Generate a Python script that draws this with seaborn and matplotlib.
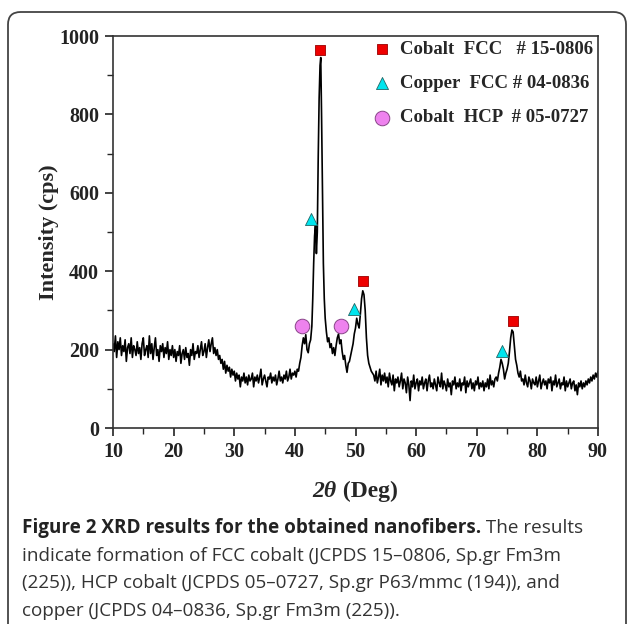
import numpy as np
import pandas as pd
import matplotlib
matplotlib.use("Agg")
import matplotlib.pyplot as plt
from matplotlib.patches import FancyBboxPatch
import seaborn as sns

# ---------------- data ----------------
# 10.0 .. 39.8 step 0.2
seg_a_start, seg_a_step = 10.0, 0.2
seg_a = [215, 195, 235, 180, 220, 200, 230, 185, 210, 195,
         225, 170, 205, 215, 190, 230, 180, 210, 200, 185,
         220, 190, 205, 175, 215, 230, 185, 200, 210, 180,
         235, 190, 215, 175, 205, 230, 185, 200, 170, 210,
         195, 215, 180, 205, 190, 220, 175, 200, 185, 210,
         180, 200, 170, 195, 185, 210, 165, 190, 200, 175,
         205, 180, 190, 160, 200, 185, 215, 175, 195, 190,
         210, 180, 200, 220, 185, 195, 215, 180, 205, 225,
         195, 215, 230, 190, 205, 185, 200, 175, 185, 165,
         175, 150, 170, 140, 160, 145, 155, 130, 150, 135,
         145, 120, 140, 125, 135, 105, 130, 120, 140, 115,
         130, 110, 135, 120, 125, 140, 105, 130, 120, 135,
         115, 130, 150, 110, 125, 135, 120, 105, 130, 125,
         140, 115, 130, 120, 135, 110, 125, 145, 120, 130,
         115, 135, 125, 145, 120, 130, 150, 125, 140, 135]
# peak region 40 .. 53
seg_b_x = [40.0, 40.2, 40.4, 40.6, 40.8, 41.0, 41.2, 41.4, 41.6, 41.8,
           42.0, 42.2, 42.4, 42.6, 42.8, 42.95, 43.1, 43.25, 43.4, 43.55,
           43.7, 43.85, 44.0, 44.15, 44.27, 44.4, 44.55, 44.7, 44.85, 45.0,
           45.2, 45.4, 45.6, 45.8, 46.0, 46.2, 46.4, 46.6, 46.8, 47.0,
           47.2, 47.4, 47.6, 47.8, 48.0, 48.2, 48.4, 48.6, 48.8, 49.0,
           49.2, 49.4, 49.6, 49.8, 50.0, 50.2, 50.4, 50.6, 50.8, 51.0,
           51.2, 51.4, 51.6, 51.8, 52.0, 52.2, 52.4, 52.6, 52.8]
seg_b_y = [145, 130, 150, 145, 165, 180, 210, 230, 215, 238,
           200, 192, 215, 225, 260, 330, 420, 490, 520, 445,
           500, 690, 840, 925, 945, 800, 600, 420, 330, 280,
           245, 220, 230, 205, 215, 190, 205, 185, 210, 230,
           240, 215, 225, 195, 175, 185, 160, 142, 165, 170,
           185, 200, 215, 240, 255, 280, 265, 255, 290, 330,
           350, 340, 300, 230, 185, 165, 155, 145, 140]
# 53.0 .. 73.4 step 0.2
seg_c_start, seg_c_step = 53.0, 0.2
seg_c = [135, 120, 145, 115, 130, 150, 110, 135, 120, 140,
         115, 130, 105, 140, 120, 110, 135, 95, 125, 115,
         130, 105, 120, 140, 100, 125, 115, 90, 130, 110,
         70, 120, 105, 135, 100, 115, 125, 95, 120, 110,
         130, 100, 115, 125, 95, 120, 135, 105, 115, 100,
         125, 110, 95, 130, 115, 105, 140, 100, 120, 110,
         95, 125, 105, 115, 85, 120, 110, 130, 100, 115,
         105, 125, 95, 115, 110, 130, 90, 120, 105, 115,
         125, 100, 115, 95, 120, 110, 130, 100, 115, 105,
         120, 95, 115, 105, 125, 100, 135, 110, 120, 105,
         125, 130, 120]
# 73.6 .. 77.4
seg_d_x = [73.6, 73.8, 74.0, 74.2, 74.4, 74.6, 74.8, 75.0, 75.2, 75.4,
           75.6, 75.8, 76.0, 76.2, 76.4, 76.6, 76.8, 77.0, 77.2, 77.4]
seg_d_y = [140, 155, 175, 165, 150, 125, 140, 150, 165, 195,
           230, 250, 245, 210, 175, 160, 140, 130, 145, 120]
# 77.6 .. 90.0 step 0.2
seg_e_start, seg_e_step = 77.6, 0.2
seg_e = [125, 110, 135, 115, 105, 130, 120, 100, 125, 115,
         110, 130, 105, 120, 135, 100, 115, 125, 110, 120,
         100, 125, 115, 130, 95, 120, 110, 135, 105, 115,
         125, 100, 115, 110, 130, 95, 120, 105, 115, 125,
         100, 115, 120, 95, 110, 85, 115, 105, 120, 100,
         115, 105, 120, 110, 125, 115, 130, 120, 135, 125,
         140, 130, 145]

# phase markers
co_fcc_x = [44.2, 51.3, 75.9]
co_fcc_y = [965, 375, 272]
cu_fcc_x = [42.7, 49.8, 74.1]
cu_fcc_y = [532, 303, 197]
co_hcp_x = [41.2, 47.6]
co_hcp_y = [260, 260]

legend_labels = ["Cobalt  FCC   # 15-0806", "Copper  FCC # 04-0836", "Cobalt  HCP  # 05-0727"]
x_ticks = [10, 20, 30, 40, 50, 60, 70, 80, 90]
y_ticks = [0, 200, 400, 600, 800, 1000]

caption_bold = "Figure 2 XRD results for the obtained nanofibers."
caption_rest = [" The results",
                "indicate formation of FCC cobalt (JCPDS 15\u20130806, Sp.gr Fm3m",
                "(225)), HCP cobalt (JCPDS 05\u20130727, Sp.gr P63/mmc (194)), and",
                "copper (JCPDS 04\u20130836, Sp.gr Fm3m (225))."]

# ---------------- assemble ----------------
def grid(start, step, vals):
    return [round(start + i * step, 2) for i in range(len(vals))]

xs = grid(seg_a_start, seg_a_step, seg_a) + seg_b_x + grid(seg_c_start, seg_c_step, seg_c) \
     + seg_d_x + grid(seg_e_start, seg_e_step, seg_e)
ys = seg_a + seg_b_y + seg_c + seg_d_y + seg_e
df = pd.DataFrame({"two_theta": xs, "intensity": ys})

sns.set_style("ticks")
plt.rcParams["font.family"] = ["Liberation Serif", "DejaVu Serif"]

W, H = 629, 624
fig = plt.figure(figsize=(W / 100, H / 100), dpi=100)

# rounded frame of the figure panel
frame = FancyBboxPatch((8 / W, -0.05), (626 - 8) / W, 1 - 12 / H + 0.05,
                       boxstyle="round,pad=0,rounding_size=0.02",
                       transform=fig.transFigure, facecolor="none",
                       edgecolor="#444444", linewidth=1.3, zorder=-5)
fig.patches.append(frame)

ax = fig.add_axes([113 / W, 1 - 428 / H, (598 - 113) / W, (428 - 36) / H])
ax.set_zorder(2)
ax.set_facecolor("none")

sns.lineplot(data=df, x="two_theta", y="intensity", color="black",
             linewidth=1.2, sort=False, estimator=None, ax=ax, legend=False)

sns.scatterplot(x=co_fcc_x, y=co_fcc_y, marker="s", s=45, color="#ee0000",
                edgecolor="#990000", linewidth=0.6, ax=ax, label=legend_labels[0], zorder=5)
sns.scatterplot(x=cu_fcc_x, y=cu_fcc_y, marker="^", s=75, color="#00e5ee",
                edgecolor="#226666", linewidth=0.6, ax=ax, label=legend_labels[1], zorder=5)
sns.scatterplot(x=co_hcp_x, y=co_hcp_y, marker="o", s=110, color="#ee82ee",
                edgecolor="#884488", linewidth=0.7, ax=ax, label=legend_labels[2], zorder=5)

ax.set_xlim(10, 90)
ax.set_ylim(0, 1000)
ax.set_xticks(x_ticks)
ax.set_yticks(y_ticks)
ax.set_xticks(np.arange(15, 90, 10), minor=True)
ax.set_yticks(np.arange(100, 1000, 200), minor=True)
ax.tick_params(axis="both", which="major", direction="out", length=6, width=1.2,
               labelsize=14.5, pad=4, colors="#222222")
ax.tick_params(axis="both", which="minor", direction="out", length=4, width=1.0)
for lab in ax.get_xticklabels() + ax.get_yticklabels():
    lab.set_fontweight("bold")
for sp in ax.spines.values():
    sp.set_visible(True)
    sp.set_linewidth(1.2)
    sp.set_color("#333333")

ax.set_ylabel("Intensity (cps)", fontsize=16, fontweight="bold", labelpad=0)
ax.set_xlabel("")

leg = ax.legend(loc="upper right", frameon=False, handletextpad=0.4,
                borderaxespad=0.2, labelspacing=0.92, handlelength=1.2,
                bbox_to_anchor=(1.014, 1.017), prop={"weight": "bold", "size": 13.5})

# x label: italic 2θ + (Deg)
fig.canvas.draw()
r = fig.canvas.get_renderer()
t1 = fig.text(0, 0, "2\u03b8", fontsize=17, fontweight="bold", fontstyle="italic",
              ha="left", va="baseline")
t2 = fig.text(0, 0, " (Deg)", fontsize=17, fontweight="bold", ha="left", va="baseline")
w1 = t1.get_window_extent(r).width
w2 = t2.get_window_extent(r).width
cx = 355
x0 = cx - (w1 + w2) / 2
yb = 1 - 497 / H
t1.set_position((x0 / W, yb))
t2.set_position(((x0 + w1) / W, yb))

# caption
cap_font = ["Open Sans", "DejaVu Sans"]
cap_size = 13.6
baselines = [533, 561, 588, 616]
tb = fig.text(22 / W, 1 - baselines[0] / H, caption_bold, fontsize=cap_size,
              fontweight="bold", family=cap_font, color="#222222", va="baseline")
wb = tb.get_window_extent(r).width
fig.text((22 + wb) / W, 1 - baselines[0] / H, caption_rest[0], fontsize=cap_size,
         family=cap_font, color="#333333", va="baseline")
for line, yb_ in zip(caption_rest[1:], baselines[1:]):
    fig.text(22 / W, 1 - yb_ / H, line, fontsize=cap_size, family=cap_font,
             color="#333333", va="baseline")

fig.savefig("out.png", dpi=100)
